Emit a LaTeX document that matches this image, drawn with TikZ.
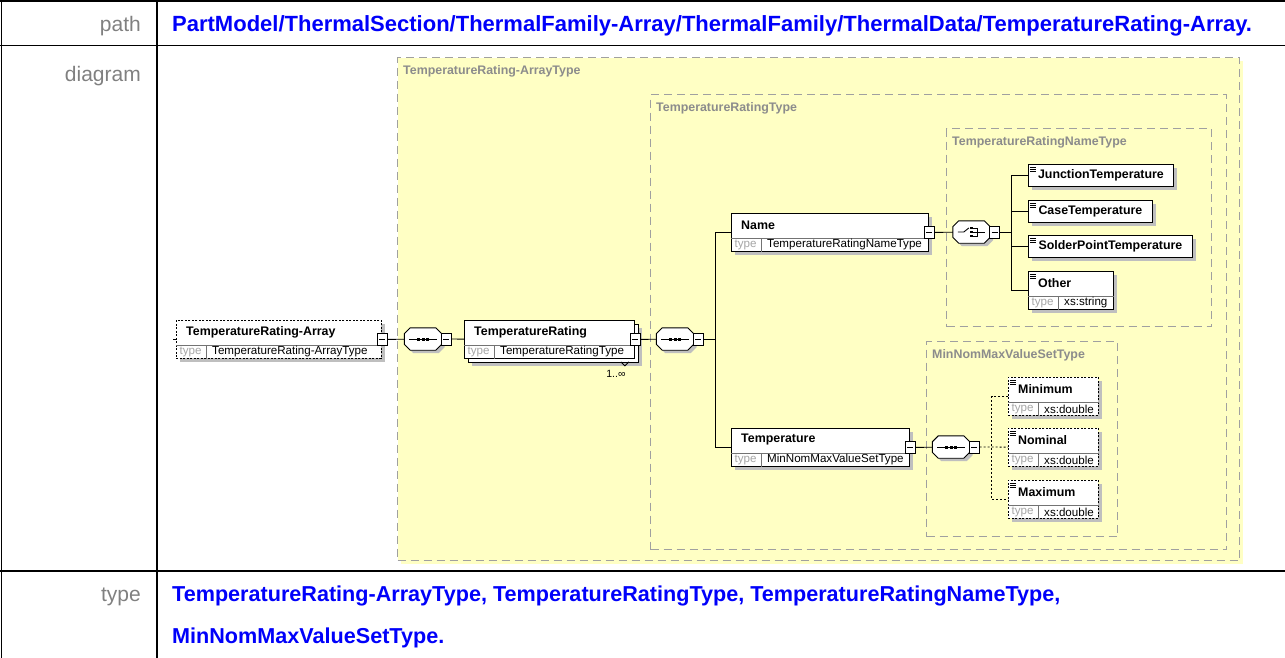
\documentclass[tikz,border=0pt]{standalone}
\usepackage{fontspec}
\setmainfont{Liberation Sans}
\usetikzlibrary{
	positioning,
	shadows,
}

\definecolor{schemayellow}{RGB}{255,255,196}
\definecolor{schemagray}{RGB}{160,160,160}
\definecolor{labelgray}{RGB}{128,128,128}
\definecolor{linkblue}{RGB}{0,0,250}

\tikzset{
	tableline/.style={line width=1.8pt},
	rowlabel/.style={anchor=base east, inner sep=0pt, text=labelgray, font=\fontsize{21}{24}\selectfont},
	rowvalue/.style={anchor=base west, inner sep=0pt, text=linkblue, font=\bfseries\fontsize{21.6}{24}\selectfont},
	complextype/.style={anchor=north west, inner sep=0pt, draw=schemagray, line width=1.2pt,
		dash pattern=on 8pt off 5pt, fill=schemayellow,
		general shadow={fill=schemayellow, shadow xshift=3pt, shadow yshift=-3pt}},
	typetitle/.style={anchor=west, inner sep=0pt, text=black!45, font=\bfseries\fontsize{12.4}{14}\selectfont},
	elembox/.style={anchor=north west, inner sep=0pt, draw, fill=white, line width=0.9pt,
		general shadow={fill=black!25, shadow xshift=4pt, shadow yshift=-4pt}},
	optional/.style={dash pattern=on 2pt off 1.5pt},
	stacked/.style={general shadow={fill=black!25, shadow xshift=8pt, shadow yshift=-8pt},
		copy shadow={shadow xshift=4pt, shadow yshift=-4pt}},
	simple/.style={path picture={
		\foreach \k in {2.5,4.5,6.5}
			\draw[solid, line width=0.6pt] ([xshift=1.5pt, yshift=-\k pt]path picture bounding box.north west) -- ++(6pt,0pt);
	}},
	elemname/.style={inner sep=0pt, font=\bfseries\fontsize{12.4}{14}\selectfont},
	typeword/.style={anchor=west, inner sep=0pt, text=black!35, font=\fontsize{11.6}{13}\selectfont},
	typename/.style={anchor=west, inner sep=0pt, font=\fontsize{11.6}{13}\selectfont},
	rowline/.style={black!55, line width=0.6pt},
	compositor/.style={rectangle, minimum width=37, minimum height=22, inner sep=0pt},
	compositorshape/.style={draw, fill=white, line width=0.9pt,
		general shadow={fill=black!25, shadow xshift=3pt, shadow yshift=-3pt}},
	collapse/.style={draw, fill=white, inner sep=0pt, line width=0.8pt, minimum width=10, minimum height=12,
		path picture={\draw[line width=0.9pt] ([xshift=2pt]path picture bounding box.west) -- ([xshift=-2pt]path picture bounding box.east);}},
	conn/.style={line width=0.9pt},
	optconn/.style={conn, dash pattern=on 2pt off 2pt},
}

% element with a name row and a type row
\newcommand{\typedelem}[6][]{%
	\node[elembox, minimum width=#4, minimum height=38, #1] (#2) at #3 {};
	\node[elemname, anchor=west] (#2-n) at ([xshift=10, yshift=-12]#2.north west) {#5};
	\draw[rowline] ([yshift=14]#2.south west) -- ([yshift=14]#2.south east);
	\draw[rowline] ([xshift=30]#2.south west) -- ([xshift=30, yshift=14]#2.south west);
	\node[typeword] (#2-w) at ([xshift=3.5, yshift=7]#2.south west) {type};
	\node[typename] (#2-t) at ([xshift=36, yshift=7]#2.south west) {#6};
}

% compositor: octagon round an empty node
\newcommand{\compositor}[2]{%
	\node[compositor] (#1) at #2 {};
	\filldraw[compositorshape] ([xshift=6]#1.north west) -- ([xshift=-6]#1.north east)
		-- ([yshift=-6]#1.north east) -- ([yshift=6]#1.south east)
		-- ([xshift=-6]#1.south east) -- ([xshift=6]#1.south west)
		-- ([yshift=6]#1.south west) -- ([yshift=-6]#1.north west) -- cycle;
}

% sequence and choice marks inside a compositor
\newcommand{\seqmark}[1]{%
	\draw[line width=0.9pt] ([xshift=5]#1.west) -- ([xshift=-5]#1.east);
	\foreach \d in {-4.5,0,4.5}
		\fill ([xshift=\d-1.5, yshift=1.5]#1.center) rectangle ([xshift=\d+1.5, yshift=-1.5]#1.center);
}
\newcommand{\choicemark}[1]{%
	\draw[line width=0.9pt] ([xshift=5]#1.west) -- ([xshift=11]#1.west) -- ([xshift=16, yshift=4]#1.west);
	\foreach \d in {4,0,-4}
		\fill ([xshift=-1.5, yshift=\d+1.2]#1.center) rectangle ([xshift=1.5, yshift=\d-1.2]#1.center);
	\draw[line width=0.8pt] ([xshift=1.5, yshift=4]#1.center) -- ([xshift=5.5, yshift=4]#1.center)
		-- ([xshift=5.5, yshift=-4]#1.center) -- ([xshift=1.5, yshift=-4]#1.center);
	\draw[line width=0.9pt] ([xshift=1.5]#1.center) -- ([xshift=-5]#1.east);
}

\begin{document}
\begin{tikzpicture}[x=1pt, y=-1pt]
	\useasboundingbox (0,0) rectangle (1285,658);

	% table
	\draw[tableline] (0,1) -- (1285,1);
	\draw[tableline] (1.5,0) -- (1.5,658);
	\draw[tableline] (157,0) -- (157,658);
	\draw[line width=1.4pt] (0,45.5) -- (1285,45.5);
	\draw[line width=1.4pt] (0,571) -- (1285,571);

	\node[rowlabel] (path-l) at (141,31.5) {path};
	\node[rowvalue, font=\bfseries\fontsize{22}{24}\selectfont] (path-v) at (172,31.5) {PartModel/ThermalSection/ThermalFamily-Array/ThermalFamily/ThermalData/TemperatureRating-Array.};
	\node[rowlabel] (diagram-l) at (141,82) {diagram};
	\node[rowlabel] (type-l) at (141,601) {type};
	\node[rowvalue] (type-v1) at (172,601) {TemperatureRating-ArrayType, TemperatureRatingType, TemperatureRatingNameType,};
	\node[rowvalue] (type-v2) at (172,643) {MinNomMaxValueSetType.};

	% complex types
	\node[complextype, minimum width=842, minimum height=503] (arrtype) at (397,57) {};
	\node[complextype, minimum width=576, minimum height=455] (ratingtype) at (650,94) {};
	\node[complextype, minimum width=265, minimum height=198] (nametype) at (946,128) {};
	\node[complextype, minimum width=191, minimum height=195] (valuetype) at (926,341) {};
	\foreach \t/\s in {arrtype/TemperatureRating-ArrayType, ratingtype/TemperatureRatingType,
			nametype/TemperatureRatingNameType, valuetype/MinNomMaxValueSetType}
		\node[typetitle] (\t-l) at ([xshift=6, yshift=-14.5]\t.north west) {\s};

	% elements
	\typedelem[optional]{tra}{(176,320)}{205}{TemperatureRating-Array}{TemperatureRating-ArrayType}
	\typedelem[stacked]{tr}{(464,320)}{170}{TemperatureRating}{TemperatureRatingType}
	\typedelem{name}{(731,213)}{197}{Name}{TemperatureRatingNameType}
	\typedelem{temp}{(731,428)}{178}{Temperature}{MinNomMaxValueSetType}
	\typedelem[simple]{other}{(1028,271)}{85}{Other}{xs:string}
	\typedelem[simple, optional]{min}{(1008,377)}{90}{Minimum}{xs:double}
	\typedelem[simple, optional]{nom}{(1008,428)}{90}{Nominal}{xs:double}
	\typedelem[simple, optional]{max}{(1008,480)}{90}{Maximum}{xs:double}

	\node[elembox, simple, elemname, minimum height=22, minimum width=145] (jt) at (1028,164) {JunctionTemperature};
	\node[elembox, simple, elemname, minimum height=22, minimum width=124] (ct) at (1028,200) {CaseTemperature};
	\node[elembox, simple, elemname, minimum height=22, minimum width=164] (spt) at (1028,235) {SolderPointTemperature};

	% occurrence of TemperatureRating
	\draw[line width=0.8pt] ([xshift=-14, yshift=-3]tr.south east) -- ([xshift=-10, yshift=-7]tr.south east)
		-- ([xshift=-6, yshift=-3]tr.south east);
	\node[inner sep=0pt, font=\fontsize{10.5}{12}\selectfont] (tr-occ) at ([xshift=-19, yshift=-15]tr.south east) {1..∞};

	% compositors
	\compositor{seq1}{(423,339)}
	\compositor{seq2}{(675,339)}
	\compositor{choice}{(971.5,232)}
	\compositor{seq3}{(951,447)}
	\seqmark{seq1}
	\seqmark{seq2}
	\seqmark{seq3}
	\choicemark{choice}

	\foreach \n in {tra, tr, name, temp}
		\node[collapse] (\n-c) at (\n.east) {};
	\foreach \n in {seq1, seq2, choice, seq3}
		\node[collapse, right=-1pt of \n] (\n-c) {};

	% connectors
	\draw[conn] (tra.west) -- ++(-3,0);
	\draw[conn] (tra-c) -- (seq1);
	\draw[conn] (seq1-c) -- (tr);
	\draw[conn] (tr-c) -- (seq2);
	\coordinate (bus1) at ([xshift=12]seq2-c.east);
	\draw[conn] (seq2-c) -- (bus1);
	\draw[conn] (name) -| (bus1) |- (temp);

	\draw[conn] (name-c) -- (choice);
	\coordinate (bus2) at ([xshift=11]choice-c.east);
	\draw[conn] (choice-c) -- (bus2);
	\draw[conn] (jt) -| (bus2) |- (other);
	\draw[conn] (bus2 |- ct) -- (ct);
	\draw[conn] (bus2 |- spt) -- (spt);

	\draw[conn] (temp-c) -- (seq3);
	\coordinate (bus3) at ([xshift=12]seq3-c.east);
	\draw[optconn] (seq3-c) -- (bus3) -- (nom);
	\draw[optconn] (min) -| (bus3) |- (max);
\end{tikzpicture}
\end{document}
